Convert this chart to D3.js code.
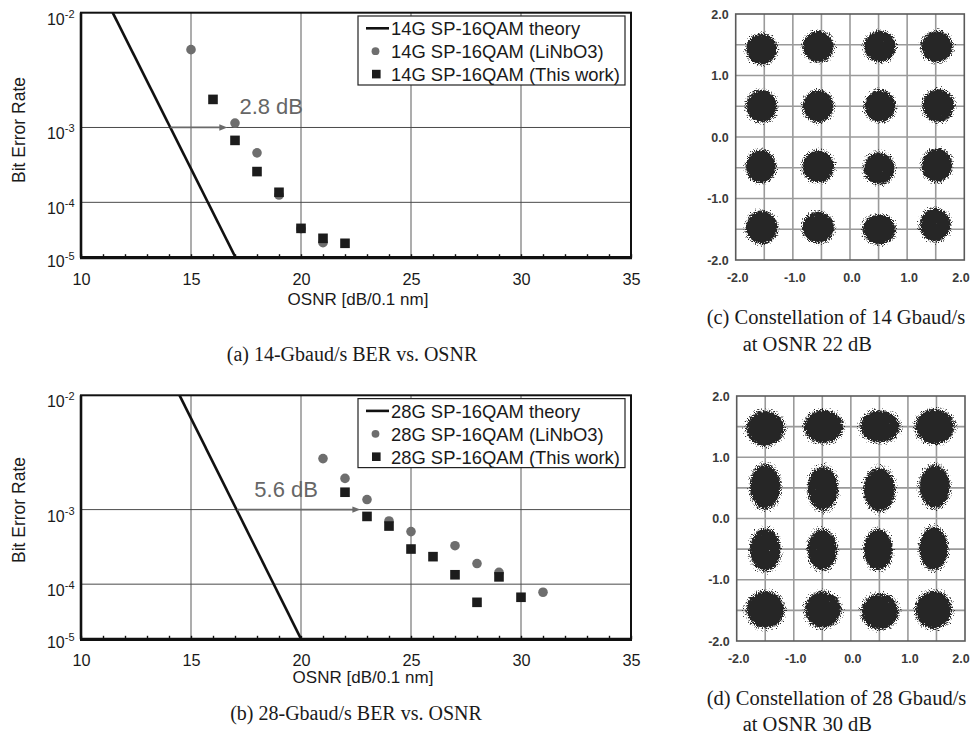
<!DOCTYPE html>
<html>
<head>
<meta charset="utf-8">
<script src="https://cdn.jsdelivr.net/npm/d3@7"></script>
<style>
  body { margin: 0; background: #fff; }
  svg { display: block; }
</style>
</head>
<body>
<div id="fig"></div>
<script>
// ---------- data ----------
const osnrMinor = d3.range(10, 36);
const osnrGrid = [15, 20, 25, 30];
const berTicks = [1e-2, 1e-3, 1e-4, 1e-5];
const berExp = ["-2", "-3", "-4", "-5"];
const berGrid = [1e-3, 1e-4];

// 14 Gbaud
const theory14 = [[11.44, 1e-2], [17.03, 1e-5]];
const linbo14Osnr = [15, 17, 18, 19, 20, 21];
const linbo14Ber = [5.4e-3, 1.12e-3, 5.0e-4, 1.30e-4, 3.6e-5, 1.98e-5];
const work14Osnr = [16, 17, 18, 19, 20, 21, 22];
const work14Ber = [1.97e-3, 7.1e-4, 2.84e-4, 1.43e-4, 3.65e-5, 2.4e-5, 1.93e-5];
const arrow14 = [14.06, 16.65];
const legend14 = ["14G SP-16QAM theory", "14G SP-16QAM (LiNbO3)", "14G SP-16QAM (This work)"];

// 28 Gbaud
const theory28 = [[14.48, 1e-2], [20.01, 1e-5]];
const linbo28Osnr = [21, 22, 23, 24, 25, 27, 28, 29, 31];
const linbo28Ber = [3.24e-3, 2.12e-3, 1.29e-3, 7.4e-4, 5.5e-4, 3.62e-4, 2.05e-4, 1.52e-4, 7.4e-5];
const work28Osnr = [22, 23, 24, 25, 26, 27, 28, 29, 30];
const work28Ber = [1.54e-3, 8.36e-4, 6.43e-4, 3.27e-4, 2.57e-4, 1.40e-4, 5.0e-5, 1.30e-4, 6.1e-5];
const arrow28 = [17.09, 22.7];
const legend28 = ["28G SP-16QAM theory", "28G SP-16QAM (LiNbO3)", "28G SP-16QAM (This work)"];

// constellations: [I, Q, spread I, spread Q] (spread = outer edge of scatter)
const iqTicks = [-2, -1, 0, 1, 2];
const iqGrid = [-1.5, -1, -0.5, 0, 0.5, 1, 1.5];
const con14 = [
  [-1.545, 1.43, 0.33, 0.31], [-0.555, 1.47, 0.33, 0.31], [0.525, 1.47, 0.34, 0.31], [1.52, 1.47, 0.34, 0.31],
  [-1.545, 0.50, 0.33, 0.32], [-0.555, 0.50, 0.33, 0.32], [0.525, 0.50, 0.33, 0.32], [1.545, 0.51, 0.34, 0.33],
  [-1.56, -0.48, 0.32, 0.33], [-0.555, -0.48, 0.34, 0.32], [0.51, -0.51, 0.33, 0.32], [1.52, -0.46, 0.33, 0.33],
  [-1.545, -1.47, 0.34, 0.33], [-0.555, -1.47, 0.34, 0.31], [0.51, -1.50, 0.35, 0.30], [1.49, -1.43, 0.33, 0.33]
];
const con28 = [
  [-1.50, 1.47, 0.41, 0.35], [-0.48, 1.50, 0.42, 0.33], [0.51, 1.50, 0.43, 0.32], [1.47, 1.50, 0.42, 0.35],
  [-1.50, 0.52, 0.33, 0.45], [-0.49, 0.49, 0.33, 0.44], [0.50, 0.47, 0.34, 0.44], [1.47, 0.52, 0.33, 0.43],
  [-1.50, -0.51, 0.33, 0.43], [-0.50, -0.51, 0.32, 0.41], [0.48, -0.51, 0.31, 0.41], [1.45, -0.49, 0.31, 0.43],
  [-1.50, -1.49, 0.41, 0.37], [-0.49, -1.49, 0.39, 0.36], [0.51, -1.52, 0.40, 0.36], [1.45, -1.49, 0.39, 0.38]
];

// ---------- helpers ----------
const sans = "'Liberation Sans', Arial, Helvetica, sans-serif";
const serif = "'Liberation Serif', 'Times New Roman', serif";

// inverse normal CDF (Acklam), used for the Q-factor BER axis
function normInv(p) {
  const a = [-3.969683028665376e+01, 2.209460984245205e+02, -2.759285104469687e+02, 1.383577518672690e+02, -3.066479806614716e+01, 2.506628277459239e+00];
  const b = [-5.447609879822406e+01, 1.615858368580409e+02, -1.556989798598866e+02, 6.680131188771972e+01, -1.328068155288572e+01];
  const c = [-7.784894002430293e-03, -3.223964580411365e-01, -2.400758277161838e+00, -2.549732539343734e+00, 4.374664141464968e+00, 2.938163982698783e+00];
  const d = [7.784695709041462e-03, 3.224671290700398e-01, 2.445134137142996e+00, 3.754408661907416e+00];
  if (p < 0.02425) {
    const q = Math.sqrt(-2 * Math.log(p));
    return (((((c[0] * q + c[1]) * q + c[2]) * q + c[3]) * q + c[4]) * q + c[5]) /
      ((((d[0] * q + d[1]) * q + d[2]) * q + d[3]) * q + 1);
  }
  const q = p - 0.5, r = q * q;
  return (((((a[0] * r + a[1]) * r + a[2]) * r + a[3]) * r + a[4]) * r + a[5]) * q /
    (((((b[0] * r + b[1]) * r + b[2]) * r + b[3]) * r + b[4]) * r + 1);
}
const qdb = ber => 20 * Math.log10(-normInv(ber));

const W = 973, H = 738;
const svg = d3.select("#fig").append("svg")
  .attr("width", W)
  .attr("height", H)
  .style("background", "#ffffff");

const defs = svg.append("defs");

// soft cluster fill + speckled edge
const grad = defs.append("radialGradient").attr("id", "blob");
[[0, 1], [0.66, 1], [0.82, 0.56], [0.93, 0.4], [1, 0.3]].forEach(s => {
  grad.append("stop").attr("offset", s[0]).attr("stop-color", "#000").attr("stop-opacity", s[1]);
});
const spk = defs.append("filter").attr("id", "speckle")
  .attr("x", "-10%").attr("y", "-10%").attr("width", "120%").attr("height", "120%")
  .attr("color-interpolation-filters", "sRGB");
spk.append("feTurbulence").attr("type", "fractalNoise").attr("baseFrequency", 0.85)
  .attr("numOctaves", 2).attr("seed", 7).attr("result", "noise");
spk.append("feColorMatrix").attr("in", "noise").attr("type", "matrix")
  .attr("values", "0 0 0 0 0  0 0 0 0 0  0 0 0 0 0  1 0 0 0 0").attr("result", "na");
spk.append("feComposite").attr("in", "SourceAlpha").attr("in2", "na").attr("operator", "arithmetic")
  .attr("k1", 0).attr("k2", 6).attr("k3", 6).attr("k4", -6).attr("result", "mask");
spk.append("feFlood").attr("flood-color", "#262626").attr("result", "ink");
spk.append("feComposite").attr("in", "ink").attr("in2", "mask").attr("operator", "in");

// ---------- BER panels ----------
function drawBer(p) {
  const left = 81, right = 631;
  const x = d3.scaleLinear().domain([10, 35]).range([left, right]);
  const q = d3.scaleLinear().domain([qdb(1e-2), qdb(1e-5)]).range([p.top, p.bottom]);
  const y = ber => q(qdb(ber));
  const g = svg.append("g");

  defs.append("clipPath").attr("id", p.id)
    .append("rect").attr("x", left).attr("y", p.top).attr("width", right - left).attr("height", p.bottom - p.top);

  // grid
  g.selectAll(".vg").data(osnrGrid).join("line")
    .attr("x1", d => x(d)).attr("x2", d => x(d))
    .attr("y1", p.top).attr("y2", p.bottom)
    .attr("stroke", "#6a6a6a").attr("stroke-width", 1.1);
  g.selectAll(".hg").data(berGrid).join("line")
    .attr("x1", left).attr("x2", right)
    .attr("y1", d => y(d)).attr("y2", d => y(d))
    .attr("stroke", "#4a4a4a").attr("stroke-width", 1);

  // x axis with inside minor ticks
  g.append("g")
    .attr("transform", `translate(0,${p.bottom})`)
    .call(d3.axisBottom(x).tickValues(osnrMinor).tickSize(-3.5).tickPadding(15.5)
      .tickFormat(d => d % 5 === 0 ? d : ""))
    .call(a => a.select(".domain").remove())
    .call(a => a.selectAll("line").attr("stroke", "#111").attr("stroke-width", 1.4))
    .call(a => a.selectAll("text").attr("font-family", sans).attr("font-size", 16.3).attr("fill", "#1a1a1a"));

  // y tick labels 10^-n
  berTicks.forEach((t, i) => {
    const ty = y(t) + (i === berTicks.length - 1 ? 9 : 12);
    const tx = g.append("text")
      .attr("x", 74.5).attr("y", ty)
      .attr("text-anchor", "end")
      .attr("font-family", sans).attr("fill", "#1a1a1a");
    tx.append("tspan").attr("font-size", 16).text("10");
    tx.append("tspan").attr("font-size", 11).attr("dy", -7).text(berExp[i]);
  });

  // theory line
  const data = g.append("g").attr("clip-path", `url(#${p.id})`);
  data.append("path")
    .datum(p.theory)
    .attr("d", d3.line().x(d => x(d[0])).y(d => y(d[1])))
    .attr("fill", "none").attr("stroke", "#111").attr("stroke-width", 2.6);

  // penalty arrow
  const ay = y(1e-3), ax0 = x(p.arrow[0]), ax1 = x(p.arrow[1]);
  g.append("line")
    .attr("x1", ax0).attr("x2", ax1 - 6).attr("y1", ay).attr("y2", ay)
    .attr("stroke", "#6a6a6a").attr("stroke-width", 1.7);
  g.append("path")
    .attr("d", `M${ax1},${ay}L${ax1 - 8},${ay - 3.2}L${ax1 - 8},${ay + 3.2}Z`)
    .attr("fill", "#6a6a6a");
  g.append("text")
    .attr("x", x(p.labelAt)).attr("y", ay - 13)
    .attr("font-family", sans).attr("font-size", 22).attr("fill", "#666")
    .text(p.label);

  // measured points
  g.selectAll(".ln").data(p.circOsnr).join("circle")
    .attr("cx", d => x(d)).attr("cy", (d, i) => y(p.circBer[i]))
    .attr("r", 4.8).attr("fill", "#6e6e6e");
  g.selectAll(".sq").data(p.sqOsnr).join("rect")
    .attr("x", d => x(d) - 4.8).attr("y", (d, i) => y(p.sqBer[i]) - 4.8)
    .attr("width", 9.6).attr("height", 9.6).attr("fill", "#1c1c1c");

  // frame
  g.append("rect")
    .attr("x", left).attr("y", p.top).attr("width", right - left).attr("height", p.bottom - p.top)
    .attr("fill", "none").attr("stroke", "#111").attr("stroke-width", 2);
  g.append("line").attr("x1", left - 1).attr("x2", right + 1).attr("y1", p.bottom).attr("y2", p.bottom)
    .attr("stroke", "#111").attr("stroke-width", 3.2);
  g.append("line").attr("x1", left).attr("x2", left).attr("y1", p.top).attr("y2", p.bottom)
    .attr("stroke", "#111").attr("stroke-width", 2.6);

  // legend
  const lg = g.append("g").attr("transform", `translate(358,${p.top + 3.3})`);
  lg.append("rect").attr("width", 267).attr("height", 69)
    .attr("fill", "#fff").attr("stroke", "#222").attr("stroke-width", 1.2);
  p.legend.forEach((name, i) => {
    const by = 19.3 + i * 22.9;
    if (i === 0) {
      lg.append("line").attr("x1", 8).attr("x2", 31).attr("y1", by - 7).attr("y2", by - 7)
        .attr("stroke", "#111").attr("stroke-width", 2.6);
    } else if (i === 1) {
      lg.append("circle").attr("cx", 17.5).attr("cy", by - 7).attr("r", 3.9).attr("fill", "#6e6e6e");
    } else {
      lg.append("rect").attr("x", 14).attr("y", by - 11.3).attr("width", 8.6).attr("height", 8.6).attr("fill", "#1c1c1c");
    }
    lg.append("text").attr("x", 33).attr("y", by)
      .attr("font-family", sans).attr("font-size", 18.4).attr("fill", "#1a1a1a")
      .text(name);
  });

  // axis titles
  g.append("text")
    .attr("x", p.xLabelX).attr("y", p.xLabelY)
    .attr("text-anchor", "middle")
    .attr("font-family", sans).attr("font-size", 17).attr("fill", "#1a1a1a")
    .text("OSNR [dB/0.1 nm]");
  g.append("text")
    .attr("transform", "rotate(-90)")
    .attr("x", -p.yLabelY).attr("y", 25)
    .attr("text-anchor", "middle")
    .attr("font-family", sans).attr("font-size", 17.5).attr("fill", "#1a1a1a")
    .text("Bit Error Rate");

  // caption
  g.append("text")
    .attr("x", p.capX).attr("y", p.capY)
    .attr("text-anchor", "middle")
    .attr("font-family", serif).attr("font-size", 20).attr("fill", "#1a1a1a")
    .text(p.caption);
}

drawBer({
  id: "clipA", top: 12.7, bottom: 257.7,
  theory: theory14, circOsnr: linbo14Osnr, circBer: linbo14Ber, sqOsnr: work14Osnr, sqBer: work14Ber,
  arrow: arrow14, label: "2.8 dB", labelAt: 17.2, legend: legend14,
  xLabelX: 358, xLabelY: 305, yLabelY: 130,
  caption: "(a) 14-Gbaud/s BER vs. OSNR", capX: 352, capY: 361
});
drawBer({
  id: "clipB", top: 395.3, bottom: 639.3,
  theory: theory28, circOsnr: linbo28Osnr, circBer: linbo28Ber, sqOsnr: work28Osnr, sqBer: work28Ber,
  arrow: arrow28, label: "5.6 dB", labelAt: 17.88, legend: legend28,
  xLabelX: 363, xLabelY: 683, yLabelY: 510,
  caption: "(b) 28-Gbaud/s BER vs. OSNR", capX: 356, capY: 720
});

// ---------- constellation panels ----------
function drawCon(p) {
  const x = d3.scaleLinear().domain([-2, 2]).range([p.left, p.right]);
  const y = d3.scaleLinear().domain([-2, 2]).range([p.bottom, p.top]);
  const g = svg.append("g");

  g.selectAll(".gx").data(iqGrid).join("line")
    .attr("x1", d => x(d)).attr("x2", d => x(d)).attr("y1", p.top).attr("y2", p.bottom)
    .attr("stroke", "#9a9a9a").attr("stroke-width", 1.6);
  g.selectAll(".gy").data(iqGrid).join("line")
    .attr("x1", p.left).attr("x2", p.right).attr("y1", d => y(d)).attr("y2", d => y(d))
    .attr("stroke", "#9a9a9a").attr("stroke-width", 1.6);

  g.append("g").attr("filter", "url(#speckle)")
    .selectAll("ellipse").data(p.clusters).join("ellipse")
    .attr("cx", d => x(d[0])).attr("cy", d => y(d[1]))
    .attr("rx", d => x(d[2]) - x(0)).attr("ry", d => y(0) - y(d[3]))
    .attr("fill", "url(#blob)");

  g.append("rect")
    .attr("x", p.left).attr("y", p.top).attr("width", p.right - p.left).attr("height", p.bottom - p.top)
    .attr("fill", "none").attr("stroke", "#5a5a5a").attr("stroke-width", 1.6);

  g.selectAll(".ty").data(iqTicks).join("text")
    .attr("x", p.left - 7).attr("y", d => y(d)).attr("dy", "0.36em")
    .attr("text-anchor", "end")
    .attr("font-family", sans).attr("font-size", 12.5).attr("font-weight", "bold").attr("fill", "#3a3a3a")
    .text(d => d.toFixed(1));
  g.selectAll(".tx").data(iqTicks).join("text")
    .attr("x", d => Math.min(x(d) + 2, 961)).attr("y", p.bottom + 21.5)
    .attr("text-anchor", "middle")
    .attr("font-family", sans).attr("font-size", 12.5).attr("font-weight", "bold").attr("fill", "#3a3a3a")
    .text(d => d.toFixed(1));

  p.caption.forEach((line, i) => {
    g.append("text")
      .attr("x", i === 0 ? 706.7 : 742.7).attr("y", p.capY[i])
      .attr("font-family", serif).attr("font-size", 20.5).attr("fill", "#1a1a1a")
      .text(line);
  });
}

drawCon({
  left: 735.7, right: 964.3, top: 14, bottom: 260, clusters: con14,
  caption: ["(c) Constellation of 14 Gbaud/s", "at OSNR 22 dB"], capY: [324, 351]
});
drawCon({
  left: 736.7, right: 965, top: 396, bottom: 641, clusters: con28,
  caption: ["(d) Constellation of 28 Gbaud/s", "at OSNR 30 dB"], capY: [705, 731]
});
</script>
</body>
</html>
